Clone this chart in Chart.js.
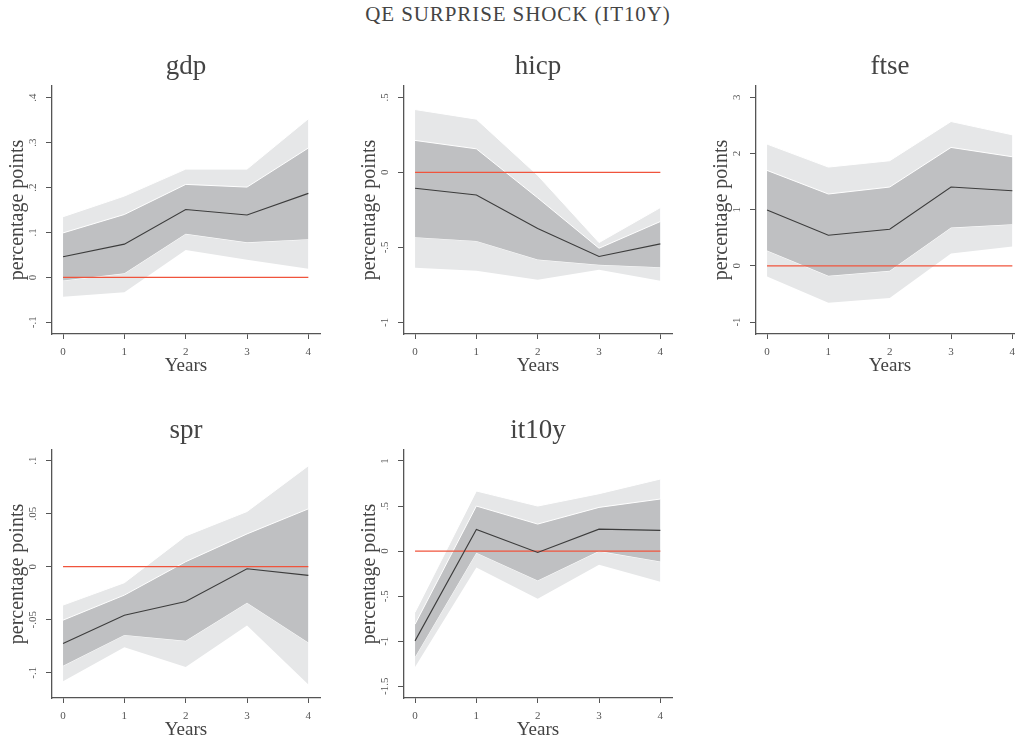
<!DOCTYPE html>
<html>
<head>
<meta charset="utf-8">
<script src="https://cdn.jsdelivr.net/npm/chart.js@4/dist/chart.umd.min.js"></script>
<style>
  html, body { margin: 0; padding: 0; background: #fff; }
  #wrap { position: relative; width: 1015px; height: 742px; overflow: hidden; font-family: "Liberation Serif", serif; }
  #title { position: absolute; top: 2px; left: 0; width: 1036px; text-align: center; font-size: 21px; color: #444; letter-spacing: 0.9px; }
  .panel { position: absolute; width: 352px; height: 364px; }
</style>
</head>
<body>
<div id="wrap">
  <div id="title">QE SURPRISE SHOCK (IT10Y)</div>
  <canvas class="panel" id="p0" width="352" height="364" style="left:0;top:30px"></canvas>
  <canvas class="panel" id="p1" width="352" height="364" style="left:352px;top:30px"></canvas>
  <canvas class="panel" id="p2" width="352" height="364" style="left:704px;top:30px"></canvas>
  <canvas class="panel" id="p3" width="352" height="364" style="left:0;top:394px"></canvas>
  <canvas class="panel" id="p4" width="352" height="364" style="left:352px;top:394px"></canvas>
</div>
<script>
// horizon (years) and x ticks
const years = [0, 1, 2, 3, 4];
const xTicks = [0, 1, 2, 3, 4];
const zero = [0, 0, 0, 0, 0];

// gdp
const gdpMed  = [0.046, 0.074, 0.151, 0.139, 0.187];
const gdpLo68 = [-0.007, 0.009, 0.097, 0.078, 0.085];
const gdpHi68 = [0.099, 0.140, 0.207, 0.201, 0.288];
const gdpLo90 = [-0.043, -0.033, 0.061, 0.039, 0.019];
const gdpHi90 = [0.135, 0.181, 0.241, 0.241, 0.353];
const gdpTicks = [-0.1, 0, 0.1, 0.2, 0.3, 0.4];

// hicp
const hicpMed  = [-0.106, -0.151, -0.375, -0.561, -0.477];
const hicpLo68 = [-0.432, -0.457, -0.581, -0.616, -0.632];
const hicpHi68 = [0.213, 0.157, -0.17, -0.506, -0.328];
const hicpLo90 = [-0.636, -0.656, -0.716, -0.650, -0.723];
const hicpHi90 = [0.419, 0.355, -0.02, -0.468, -0.235];
const hicpTicks = [-1, -0.5, 0, 0.5];

// ftse
const ftseMed  = [0.994, 0.544, 0.651, 1.402, 1.337];
const ftseLo68 = [0.272, -0.178, -0.089, 0.680, 0.740];
const ftseHi68 = [1.698, 1.278, 1.402, 2.107, 1.941];
const ftseLo90 = [-0.189, -0.657, -0.574, 0.219, 0.343];
const ftseHi90 = [2.166, 1.757, 1.870, 2.568, 2.331];
const ftseTicks = [-1, 0, 1, 2, 3];

// spr
const sprMed  = [-0.0724, -0.0457, -0.0328, -0.0019, -0.0082];
const sprLo68 = [-0.0935, -0.0643, -0.0699, -0.034, -0.0715];
const sprHi68 = [-0.0504, -0.0268, 0.0047, 0.0309, 0.0545];
const sprLo90 = [-0.108, -0.0759, -0.0945, -0.0554, -0.111];
const sprHi90 = [-0.0362, -0.0151, 0.029, 0.052, 0.0951];
const sprTicks = [-0.1, -0.05, 0, 0.05, 0.1];

// it10y
const itMed  = [-0.996, 0.241, -0.015, 0.244, 0.230];
const itLo68 = [-1.174, -0.018, -0.326, 0.0, -0.115];
const itHi68 = [-0.811, 0.5, 0.3, 0.485, 0.578];
const itLo90 = [-1.285, -0.181, -0.530, -0.152, -0.341];
const itHi90 = [-0.678, 0.667, 0.5, 0.637, 0.8];
const itTicks = [-1.5, -1, -0.5, 0, 0.5, 1];

const FONT = '"Liberation Serif", serif';
const INK = '#444', AXIS = '#555';

// Stata-style number labels: ".5", "-.05", "0"
const fmt = v => String(+v.toFixed(4)).replace(/^(-?)0\./, '$1.');

// y tick labels rotated to read upward, like the original
const yLabels = {
  id: 'yLabels',
  afterDraw(chart) {
    const s = chart.scales.y, ctx = chart.ctx;
    ctx.save();
    ctx.fillStyle = AXIS;
    ctx.font = '11px ' + FONT;
    ctx.textAlign = 'center';
    ctx.textBaseline = 'alphabetic';
    s.ticks.forEach(t => {
      ctx.save();
      ctx.translate(s.right - 16, s.getPixelForValue(t.value));
      ctx.rotate(-Math.PI / 2);
      ctx.fillText(fmt(t.value), 0, 0);
      ctx.restore();
    });
    ctx.restore();
  },
};

function panel(id, p) {
  const pts = arr => years.map((x, i) => ({ x, y: arr[i] }));
  const edge = { borderColor: '#fff', borderWidth: 1 };
  return new Chart(document.getElementById(id), {
    type: 'line',
    data: {
      datasets: [
        { data: pts(p.med), borderColor: '#3c3c3c', borderWidth: 1.1, fill: false },
        { data: pts(zero), borderColor: '#f0543c', borderWidth: 1.2, fill: false },
        { data: pts(p.hi68), ...edge, backgroundColor: '#bfc0c2', fill: '+1' },
        { data: pts(p.lo68), ...edge, fill: false },
        { data: pts(p.hi90), ...edge, backgroundColor: '#e6e7e8', fill: '+1' },
        { data: pts(p.lo90), ...edge, fill: false },
      ],
    },
    options: {
      responsive: false, animation: false, devicePixelRatio: 1,
      elements: { point: { radius: 0 }, line: { tension: 0 } },
      layout: { padding: { left: 0, right: 32, top: 0, bottom: 15 } },
      plugins: {
        legend: { display: false }, tooltip: { enabled: false },
        title: { display: true, fullSize: false, text: p.title, color: INK,
                 font: { family: FONT, size: 27, weight: 'normal' }, padding: { top: 21, bottom: 2.6 } },
      },
      scales: {
        x: {
          type: 'linear', min: -0.18, max: 4.19,
          afterBuildTicks: s => { s.ticks = xTicks.map(v => ({ value: v })); },
          afterFit: s => { s.height = 45; },
          grid: { drawOnChartArea: false, color: AXIS, tickLength: 5 },
          border: { color: AXIS, width: 1.3 },
          ticks: { color: AXIS, font: { family: FONT, size: 11 }, padding: 7, maxRotation: 0, autoSkip: false,
                   callback: v => fmt(v) },
          title: { display: true, text: 'Years', color: INK, font: { family: FONT, size: 19 },
                   padding: { top: 0, bottom: 2 } },
        },
        y: {
          min: p.min, max: p.max,
          afterBuildTicks: s => { s.ticks = p.ticks.map(v => ({ value: v })); },
          afterFit: s => { s.width = 52; },
          grid: { drawOnChartArea: false, color: AXIS, tickLength: 6 },
          border: { color: AXIS, width: 1.3 },
          ticks: { display: false },
          title: { display: true, text: 'percentage points', color: INK, font: { family: FONT, size: 20 },
                   padding: { top: 6, bottom: 0 } },
        },
      },
    },
    plugins: [yLabels],
  });
}

panel('p0', { title: 'gdp', med: gdpMed, lo68: gdpLo68, hi68: gdpHi68, lo90: gdpLo90, hi90: gdpHi90,
              ticks: gdpTicks, min: -0.126, max: 0.426 });
panel('p1', { title: 'hicp', med: hicpMed, lo68: hicpLo68, hi68: hicpHi68, lo90: hicpLo90, hi90: hicpHi90,
              ticks: hicpTicks, min: -1.078, max: 0.576 });
panel('p2', { title: 'ftse', med: ftseMed, lo68: ftseLo68, hi68: ftseHi68, lo90: ftseLo90, hi90: ftseHi90,
              ticks: ftseTicks, min: -1.213, max: 3.20 });
panel('p3', { title: 'spr', med: sprMed, lo68: sprLo68, hi68: sprHi68, lo90: sprLo90, hi90: sprHi90,
              ticks: sprTicks, min: -0.1238, max: 0.110 });
panel('p4', { title: 'it10y', med: itMed, lo68: itLo68, hi68: itHi68, lo90: itLo90, hi90: itHi90,
              ticks: itTicks, min: -1.63, max: 1.122 });
</script>
</body>
</html>
